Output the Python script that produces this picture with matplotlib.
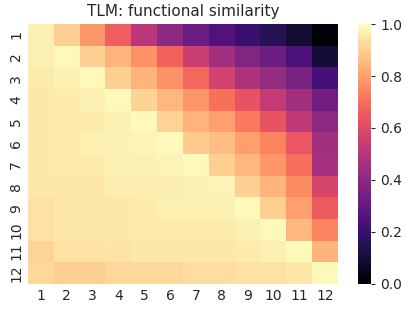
import numpy as np
import matplotlib
matplotlib.use("Agg")
import matplotlib.pyplot as plt
import seaborn as sns

labels = [str(i) for i in range(1, 13)]

# similarity values, row by row
row1 = [0.97, 0.90, 0.78, 0.66, 0.50, 0.40, 0.32, 0.25, 0.20, 0.15, 0.09, 0.02]
row2 = [0.97, 0.99, 0.90, 0.84, 0.77, 0.67, 0.55, 0.45, 0.37, 0.32, 0.24, 0.10]
row3 = [0.96, 0.97, 0.99, 0.90, 0.84, 0.77, 0.68, 0.57, 0.48, 0.42, 0.35, 0.22]
row4 = [0.95, 0.96, 0.97, 0.99, 0.91, 0.85, 0.78, 0.70, 0.63, 0.53, 0.45, 0.33]
row5 = [0.95, 0.96, 0.96, 0.97, 0.99, 0.91, 0.84, 0.80, 0.72, 0.63, 0.52, 0.40]
row6 = [0.95, 0.96, 0.97, 0.97, 0.98, 0.99, 0.89, 0.86, 0.80, 0.74, 0.64, 0.45]
row7 = [0.95, 0.955, 0.96, 0.97, 0.97, 0.98, 0.99, 0.90, 0.85, 0.78, 0.70, 0.46]
row8 = [0.95, 0.95, 0.95, 0.965, 0.965, 0.965, 0.975, 0.98, 0.90, 0.84, 0.76, 0.58]
row9 = [0.94, 0.95, 0.95, 0.95, 0.96, 0.97, 0.97, 0.97, 0.99, 0.90, 0.80, 0.65]
row10 = [0.94, 0.95, 0.95, 0.95, 0.955, 0.96, 0.96, 0.96, 0.97, 0.99, 0.85, 0.74]
row11 = [0.91, 0.94, 0.94, 0.945, 0.95, 0.95, 0.95, 0.95, 0.96, 0.97, 0.99, 0.84]
row12 = [0.92, 0.90, 0.90, 0.92, 0.92, 0.92, 0.93, 0.93, 0.94, 0.94, 0.95, 0.99]

data = np.array([row1, row2, row3, row4, row5, row6,
                 row7, row8, row9, row10, row11, row12])

fig = plt.figure(figsize=(4.07, 3.13), dpi=100)
ax = fig.add_axes([0.0688, 0.0927, 0.7612, 0.8306])
cax = fig.add_axes([0.8796, 0.0927, 0.0319, 0.8306])

sns.heatmap(data, ax=ax, cbar_ax=cax, cmap="magma", vmin=0, vmax=1,
            xticklabels=labels, yticklabels=labels)

ax.set_title("TLM: functional similarity", fontsize=11, color="0.15")
ax.tick_params(length=0, labelsize=10, labelcolor="0.15")
plt.setp(ax.get_yticklabels(), rotation=90, va="center")
plt.setp(ax.get_xticklabels(), rotation=0)
cax.tick_params(labelsize=10, length=3, labelcolor="0.15", color="0.15")
cax.set_yticks([0.0, 0.2, 0.4, 0.6, 0.8, 1.0])

fig.savefig("out.png", dpi=100)
